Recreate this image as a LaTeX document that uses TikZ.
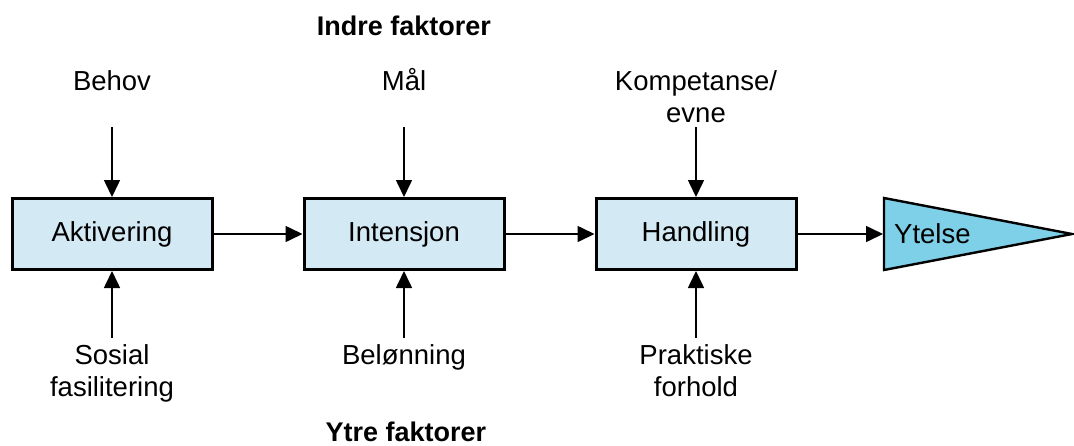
\documentclass[tikz,border=0pt]{standalone}
\usepackage{fontspec}
\setmainfont{Liberation Sans}
\usetikzlibrary{arrows.meta}
\definecolor{boxfill}{HTML}{D3E9F3}
\definecolor{trifill}{HTML}{7ECFE8}
\begin{document}
\begin{tikzpicture}[x=1pt,y=-1pt,
  every node/.style={font=\fontsize{27.5}{33}\selectfont, inner sep=0pt},
  box/.style={draw, line width=3pt, fill=boxfill, minimum width=200pt, minimum height=71pt},
  lbl/.style={anchor=base, align=center},
  hdr/.style={anchor=base, font=\fontsize{27}{33}\selectfont\bfseries},
  arr/.style={line width=1.6pt, -{Triangle[length=17pt,width=16pt]}}]
\useasboundingbox (0,0) rectangle (1074,445);
\node[box] (a) at (112,234) {Aktivering};
\node[box] (b) at (404,234) {Intensjon};
\node[box] (c) at (696,234) {Handling};
\draw[line width=2.4pt, fill=trifill, line join=miter] (884,198) -- (1072,234) -- (884,270) -- cycle;
\coordinate (tl) at (883,234);
\node[anchor=west] (y) at (894,234) {Ytelse};
% top labels
\node[lbl] (behov) at (112,90) {Behov};
\node[lbl] (maal) at (404,90) {Mål};
\node[lbl] (komp) at (696,90) {Kompetanse/};
\node[lbl] (evne) at (696,122) {evne};
\node[hdr] (indre) at (404,35) {Indre faktorer};
% bottom labels
\node[lbl] (sos) at (112,364) {Sosial};
\node[lbl] (fas) at (112,396) {fasilitering};
\node[lbl] (bel) at (404,364) {Belønning};
\node[lbl] (prak) at (696,364) {Praktiske};
\node[lbl] (forh) at (696,396) {forhold};
\node[hdr] (ytre) at (406,441) {Ytre faktorer};
% arrows
\draw[arr] (a.north |- 0,127) -- (a.north);
\draw[arr] (b.north |- 0,127) -- (b.north);
\draw[arr] (c.north |- 0,127) -- (c.north);
\draw[arr] (a.south |- 0,338) -- (a.south);
\draw[arr] (b.south |- 0,338) -- (b.south);
\draw[arr] (c.south |- 0,338) -- (c.south);
\draw[arr] (a.east) -- (b.west);
\draw[arr] (b.east) -- (c.west);
\draw[arr] (c.east) -- (tl);
\end{tikzpicture}
\end{document}
